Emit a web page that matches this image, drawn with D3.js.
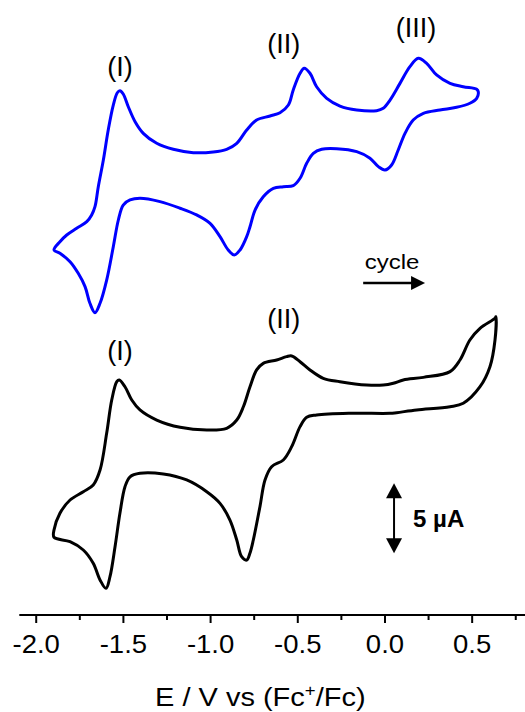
<!DOCTYPE html>
<html>
<head>
<meta charset="utf-8">
<script src="https://cdn.jsdelivr.net/npm/d3@7"></script>
<style>
  html, body { margin: 0; padding: 0; background: #fff; }
  svg { display: block; }
  text { font-family: "Liberation Sans", Arial, sans-serif; fill: #000; }
</style>
</head>
<body>
<svg id="chart" width="525" height="712"></svg>
<script>
// Potential axis ticks (V vs Fc+/Fc)
const majorTicks = [-2.0, -1.5, -1.0, -0.5, 0.0, 0.5];
const minorTicks = [-1.75, -1.25, -0.75, -0.25, 0.25, 0.75];

// Upper voltammogram (blue): potential (V) and current (µA) around the closed scan
const blueE = [-1.898,-1.864,-1.825,-1.768,-1.710,-1.682,-1.663,-1.644,-1.615,-1.587,-1.558,-1.535,-1.520,-1.501,-1.472,-1.433,-1.386,-1.309,-1.214,-1.099,-0.985,-0.908,-0.850,-0.793,-0.736,-0.659,-0.602,-0.554,-0.526,-0.487,-0.463,-0.430,-0.392,-0.334,-0.258,-0.162,-0.048,-0.010,0.029,0.086,0.143,0.191,0.239,0.296,0.373,0.449,0.526,0.535,
  0.526,0.487,0.411,0.315,0.220,0.162,0.115,0.076,0.038,0.000,-0.038,-0.086,-0.162,-0.277,-0.363,-0.411,-0.449,-0.487,-0.526,-0.583,-0.640,-0.698,-0.745,-0.774,-0.793,-0.831,-0.864,-0.899,-0.946,-1.003,-1.080,-1.175,-1.290,-1.405,-1.462,-1.501,-1.529,-1.558,-1.596,-1.634,-1.663,-1.692,-1.720,-1.759,-1.806,-1.864];
const blueI = [-5.14,-4.55,-4.07,-3.59,-3.12,-2.64,-2.05,-0.62,1.29,3.43,5.21,6.09,6.24,6.00,5.09,4.02,3.19,2.48,2.05,1.81,1.86,2.05,2.48,3.43,4.14,4.43,4.66,5.21,6.29,7.48,7.84,7.48,6.52,5.69,5.14,4.86,4.81,4.98,5.57,6.76,7.95,8.55,8.19,7.36,6.76,6.52,6.34,6.16,
  5.69,5.34,5.05,4.86,4.62,4.14,3.19,2.00,0.93,0.57,0.81,1.41,1.88,2.09,2.05,1.76,1.05,-0.02,-0.55,-0.62,-0.74,-1.34,-2.29,-3.48,-4.19,-5.14,-5.50,-5.14,-4.19,-3.24,-2.64,-2.16,-1.69,-1.45,-1.57,-1.93,-3.00,-4.91,-7.29,-8.95,-9.62,-8.95,-7.76,-6.81,-5.98,-5.38];

// Lower voltammogram (black): potential (V) and current (µA)
const blackE = [-1.898,-1.864,-1.806,-1.730,-1.673,-1.634,-1.596,-1.567,-1.538,-1.524,-1.491,-1.452,-1.405,-1.309,-1.175,-1.022,-0.908,-0.850,-0.812,-0.774,-0.736,-0.698,-0.621,-0.564,-0.535,-0.487,-0.430,-0.354,-0.258,-0.105,-0.010,0.048,0.105,0.220,0.373,0.430,0.487,0.545,0.631,0.636,
  0.631,0.602,0.545,0.449,0.373,0.182,0.067,0.029,-0.201,-0.392,-0.449,-0.487,-0.535,-0.583,-0.650,-0.688,-0.717,-0.755,-0.774,-0.793,-0.822,-0.850,-0.889,-0.946,-1.022,-1.137,-1.271,-1.405,-1.462,-1.491,-1.520,-1.548,-1.577,-1.600,-1.634,-1.673,-1.730,-1.806,-1.898];
const blackI = [-7.14,-5.95,-5.00,-4.41,-3.93,-2.86,-0.24,2.14,3.45,3.57,3.09,2.14,1.43,0.71,0.19,0.00,0.12,0.71,1.66,3.09,4.29,4.76,5.00,5.24,5.29,4.88,4.29,3.69,3.45,3.21,3.21,3.34,3.57,3.76,4.17,5.00,6.43,7.26,7.98,8.09,
  6.43,4.52,3.09,1.91,1.66,1.43,1.24,1.19,1.19,1.07,0.91,0.24,-1.19,-2.14,-2.62,-3.57,-5.48,-7.86,-8.79,-9.29,-9.05,-7.86,-6.43,-5.24,-4.41,-3.57,-3.14,-3.09,-3.34,-4.05,-5.95,-8.34,-10.48,-11.31,-10.71,-9.52,-8.57,-7.98,-7.66];

// Vertical offsets (µA) used to stack the two traces
const traceOffsets = [18, 0];
const traceColors = ["#0000ff", "#000000"];

// Redox wave labels: [potential (V), current level (µA)]
const waveLabels = [
  { text: "(I)",   E: -1.520, I: 18 + 7.3 },
  { text: "(II)",  E: -0.580, I: 18 + 8.9 },
  { text: "(III)", E: 0.178,  I: 18 + 10.1 },
  { text: "(I)",   E: -1.520, I: 5.0 },
  { text: "(II)",  E: -0.580, I: 7.3 }
];

const svg = d3.select("#chart");

const x = d3.scaleLinear().domain([-2.097, 0.803]).range([19.3, 525]);
const y = d3.scaleLinear().domain([-13.2, 30]).range([614.8, 10]);

// Widen a text element horizontally about its anchor point
function widen(sel, factor) {
  sel.each(function () {
    const t = d3.select(this);
    const cx = +t.attr("x");
    t.attr("transform", `translate(${cx},0) scale(${factor},1) translate(${-cx},0)`);
  });
}

const traces = [
  blueE.map((e, i) => [e, blueI[i]]),
  blackE.map((e, i) => [e, blackI[i]])
];

const line = d3.line()
  .x(d => x(d[0]))
  .curve(d3.curveCatmullRomClosed.alpha(0.5));

traces.forEach((pts, k) => {
  svg.append("path")
    .datum(pts)
    .attr("fill", "none")
    .attr("stroke", traceColors[k])
    .attr("stroke-width", 3)
    .attr("stroke-linejoin", "round")
    .attr("d", line.y(d => y(d[1] + traceOffsets[k])));
});

// Bottom potential axis
const axisY = 615;
const axisG = svg.append("g").attr("transform", `translate(0,${axisY})`);
axisG.append("line")
  .attr("x1", x.range()[0]).attr("x2", x.range()[1])
  .attr("stroke", "#000").attr("stroke-width", 2);
axisG.selectAll("line.major").data(majorTicks).join("line")
  .attr("class", "major")
  .attr("x1", d => x(d)).attr("x2", d => x(d))
  .attr("y1", 0).attr("y2", 8)
  .attr("stroke", "#000").attr("stroke-width", 2);
axisG.selectAll("line.minor").data(minorTicks).join("line")
  .attr("class", "minor")
  .attr("x1", d => x(d)).attr("x2", d => x(d))
  .attr("y1", 0).attr("y2", 5)
  .attr("stroke", "#000").attr("stroke-width", 2);
axisG.selectAll("text.tick").data(majorTicks).join("text")
  .attr("class", "tick")
  .attr("x", d => x(d))
  .attr("y", 38)
  .attr("text-anchor", "middle")
  .style("font-size", "25px")
  .text(d => d.toFixed(1))
  .call(widen, 1.1);

const title = svg.append("text")
  .attr("x", 260.3).attr("y", 706)
  .attr("text-anchor", "middle")
  .style("font-size", "25px");
title.append("tspan").text("E / V vs (Fc");
title.append("tspan").attr("dy", -10).style("font-size", "16px").text("+");
title.append("tspan").attr("dy", 10).text("/Fc)");
widen(title, 1.16);

// Wave labels
svg.selectAll("text.wave").data(waveLabels).join("text")
  .attr("class", "wave")
  .attr("x", d => x(d.E))
  .attr("y", d => y(d.I))
  .attr("text-anchor", "middle")
  .style("font-size", "27px")
  .text(d => d.text);

// Scan direction arrow
const cycE = [-0.125, 0.23];
const cycI = 10.5;
svg.append("text")
  .attr("x", (x(cycE[0]) + x(cycE[1])) / 2 - 2)
  .attr("y", y(cycI) - 13.5)
  .attr("text-anchor", "middle")
  .style("font-size", "20px")
  .text("cycle")
  .call(widen, 1.2);
svg.append("line")
  .attr("x1", x(cycE[0])).attr("x2", x(cycE[1]) - 12)
  .attr("y1", y(cycI)).attr("y2", y(cycI))
  .attr("stroke", "#000").attr("stroke-width", 2.5);
svg.append("path")
  .attr("d", `M${x(cycE[1])},${y(cycI)} l-14,-7 l0,14 z`)
  .attr("fill", "#000");

// 5 µA scale bar
const barE = 0.052;
const barTop = y(-3.8), barBot = y(-3.8 - 5);
svg.append("line")
  .attr("x1", x(barE)).attr("x2", x(barE))
  .attr("y1", barTop + 12).attr("y2", barBot - 12)
  .attr("stroke", "#000").attr("stroke-width", 2);
svg.append("path")
  .attr("d", `M${x(barE)},${barTop} l-8,15 l16,0 z`)
  .attr("fill", "#000");
svg.append("path")
  .attr("d", `M${x(barE)},${barBot} l-8,-15 l16,0 z`)
  .attr("fill", "#000");
svg.append("text")
  .attr("x", x(barE) + 19)
  .attr("y", (barTop + barBot) / 2 + 9)
  .style("font-size", "24px")
  .style("font-weight", "bold")
  .text("5 µA");
</script>
</body>
</html>
